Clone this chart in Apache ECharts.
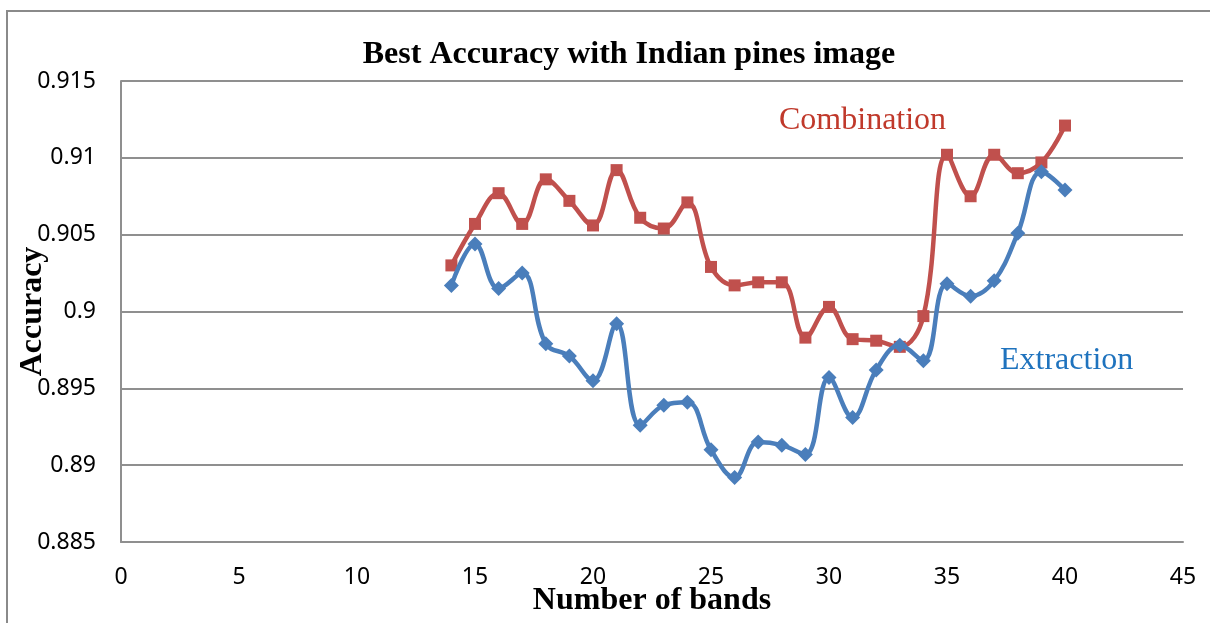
<!DOCTYPE html>
<html>
<head>
<meta charset="utf-8">
<script src="https://cdn.jsdelivr.net/npm/echarts@6/dist/echarts.min.js"></script>
<style>
  html, body { margin: 0; padding: 0; background: #fff; }
  #chart { width: 1210px; height: 623px; }
</style>
</head>
<body>
<div id="chart"></div>
<script>
// Number of bands used for each run
const bands = [14, 15, 16, 17, 18, 19, 20, 21, 22, 23, 24, 25, 26, 27, 28, 29, 30, 31, 32, 33, 34, 35, 36, 37, 38, 39, 40];

// Best accuracy per band count
const combination = [0.9030, 0.9057, 0.9077, 0.9057, 0.9086, 0.9072, 0.9056, 0.9092, 0.9061, 0.9054, 0.9071,
  0.9029, 0.9017, 0.9019, 0.9019, 0.8983, 0.9003, 0.8982, 0.8981, 0.8977, 0.8997,
  0.9102, 0.9075, 0.9102, 0.9090, 0.9097, 0.9121];
const extraction = [0.9017, 0.9044, 0.9015, 0.9025, 0.8979, 0.8971, 0.8955, 0.8992, 0.8926, 0.8939, 0.8941,
  0.8910, 0.8892, 0.8915, 0.8913, 0.8907, 0.8957, 0.8931, 0.8962, 0.8978, 0.8968,
  0.9018, 0.9010, 0.9020, 0.9051, 0.9091, 0.9079];

const xTicks = { min: 0, max: 45, step: 5 };
const yTicks = { min: 0.885, max: 0.915, step: 0.005 };

const pairs = (ys) => bands.map((b, i) => [b, ys[i]]);

const serif = '"Liberation Serif", "Times New Roman", serif';
const sans = '"Noto Sans", "Liberation Sans", sans-serif';
const gridGray = '#8f8f8f';

const chart = echarts.init(document.getElementById('chart'), null, { renderer: 'canvas' });

chart.setOption({
  backgroundColor: '#ffffff',
  animation: false,
  title: {
    text: 'Best Accuracy with Indian pines image',
    left: 624,
    textAlign: 'center',
    top: 34,
    textStyle: { fontFamily: serif, fontWeight: 'bold', fontSize: 32, color: '#000' }
  },
  grid: { left: 121, width: 1062, top: 81, height: 461, containLabel: false, outerBoundsMode: 'none' },
  xAxis: {
    type: 'value',
    min: xTicks.min, max: xTicks.max, interval: xTicks.step,
    name: 'Number of bands',
    nameLocation: 'middle',
    nameGap: 43,
    nameMoveOverlap: false,
    nameTextStyle: { fontFamily: serif, fontWeight: 'bold', fontSize: 32, color: '#000' },
    axisLine: { show: true, lineStyle: { color: gridGray, width: 2 } },
    axisTick: { show: false },
    splitLine: { show: false },
    axisLabel: { fontFamily: sans, fontSize: 23, color: '#000', margin: 24 }
  },
  yAxis: {
    type: 'value',
    min: yTicks.min, max: yTicks.max, interval: yTicks.step,
    name: 'Accuracy',
    nameLocation: 'middle',
    nameGap: 72,
    nameRotate: 90,
    nameMoveOverlap: false,
    nameTextStyle: { fontFamily: serif, fontWeight: 'bold', fontSize: 32, color: '#000' },
    axisLine: { show: true, lineStyle: { color: gridGray, width: 2 } },
    axisTick: { show: false },
    splitLine: { show: true, lineStyle: { color: gridGray, width: 2 } },
    axisLabel: {
      fontFamily: sans, fontSize: 23, color: '#000', margin: 25,
      formatter: (v) => String(parseFloat(v.toFixed(3)))
    }
  },
  graphic: [
    {
      type: 'rect', silent: true, z: -10,
      shape: { x: 7, y: 11, width: 1300, height: 700 },
      style: { fill: 'none', stroke: '#8a8a8a', lineWidth: 2 }
    },
    {
      type: 'text', left: 779, top: 105,
      style: { text: 'Combination', fontFamily: serif, fontSize: 32, fill: '#C0392B' }
    },
    {
      type: 'text', left: 1000, top: 345,
      style: { text: 'Extraction', fontFamily: serif, fontSize: 32, fill: '#1F73BE' }
    }
  ],
  series: [
    {
      name: 'Combination',
      type: 'line',
      data: pairs(combination),
      smooth: 0.4,
      symbol: 'rect',
      symbolSize: 12,
      lineStyle: { color: '#C0504D', width: 4.5 },
      itemStyle: { color: '#C0504D' },
      z: 2
    },
    {
      name: 'Extraction',
      type: 'line',
      data: pairs(extraction),
      smooth: 0.4,
      symbol: 'diamond',
      symbolSize: 15,
      lineStyle: { color: '#4A7EBB', width: 4.5 },
      itemStyle: { color: '#4A7EBB' },
      z: 3
    }
  ]
});
</script>
</body>
</html>
